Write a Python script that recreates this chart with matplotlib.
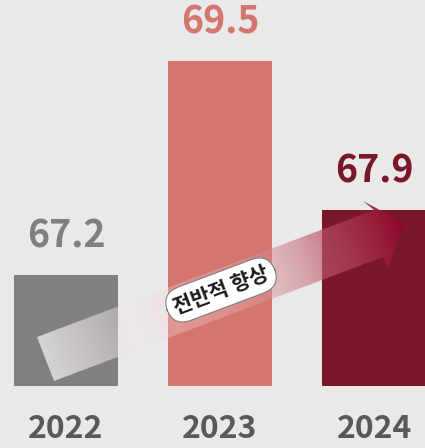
import numpy as np
import matplotlib
matplotlib.use("Agg")
import matplotlib.pyplot as plt
from matplotlib.patches import Polygon
from matplotlib.transforms import blended_transform_factory

plt.rcParams["font.family"] = ["Noto Sans CJK KR", "DejaVu Sans"]

years = ["2022", "2023", "2024"]
values = [67.2, 69.5, 67.9]
bar_colors = ["#808080", "#d4756e", "#7a1729"]
label_colors = ["#808080", "#d4756e", "#7a1729"]
arrow_label = "전반적 향상"

BG = "#e9e9e9"
W, H = 425, 448

fig = plt.figure(figsize=(W / 100, H / 100), dpi=100, facecolor=BG)
ax = fig.add_axes([0, 62 / H, 1, 386 / H])
ax.set_facecolor(BG)

x = np.arange(len(years))
ax.bar(x, values, width=0.675, color=bar_colors, zorder=1)
ax.set_xlim(-66 / 154, (W - 66) / 154)
ax.set_ylim(66.007, 70.156)
ax.axis("off")

for xi, v, c in zip(x, values, label_colors):
    ax.annotate(f"{v:.1f}", (xi, v), xytext=(0, 28), textcoords="offset points",
                ha="center", va="center", fontsize=27, fontweight="bold", color=c)

trans = blended_transform_factory(ax.transData, fig.transFigure)
for xi, yr in zip(x, years):
    ax.text(xi, 1 - 429 / H, yr, transform=trans, ha="center", va="center",
            fontsize=23, fontweight="bold", color="#595959")

# overlay in pixel coordinates for the decorative arrow
ov = fig.add_axes([0, 0, 1, 1], facecolor="none")
ov.set_xlim(0, W)
ov.set_ylim(H, 0)
ov.axis("off")

arrow_pts = [(37, 337), (374, 210), (363, 201), (404, 223),
             (388, 268), (383, 257), (54, 381)]
poly = Polygon(arrow_pts, closed=True, facecolor="none", edgecolor="none")
ov.add_patch(poly)

x0, y0 = 45, 359
x1, y1 = 404, 223
L = np.hypot(x1 - x0, y1 - y0)
ux, uy = (x1 - x0) / L, (y1 - y0) / L
gx, gy = np.meshgrid(np.arange(W) + 0.5, np.arange(H) + 0.5)
t = np.clip(((gx - x0) * ux + (gy - y0) * uy) / L, 0, 1)

stops = np.array([0.0, 0.25, 0.45, 0.7, 1.0])
reds = np.array([0.85, 0.97, 0.93, 0.80, 0.55])
greens = np.array([0.85, 0.90, 0.80, 0.45, 0.02])
blues = np.array([0.85, 0.90, 0.80, 0.50, 0.16])
alphas = np.array([0.95, 0.35, 0.35, 0.55, 1.0])
rgba = np.dstack([np.interp(t, stops, reds), np.interp(t, stops, greens),
                  np.interp(t, stops, blues), np.interp(t, stops, alphas)])
im = ov.imshow(rgba, extent=(0, W, H, 0), origin="upper", interpolation="bilinear", zorder=2)
im.set_clip_path(poly)
ov.set_xlim(0, W)
ov.set_ylim(H, 0)

ov.text(221, 290, arrow_label, rotation=20.6, ha="center", va="center",
        fontsize=15, fontweight="bold", color="#1a1a1a", zorder=3,
        bbox=dict(boxstyle="round,pad=0.35,rounding_size=0.9", fc="white",
                  ec="#7f7f7f", lw=0.8))

fig.savefig("out.png", dpi=100, facecolor=BG)
